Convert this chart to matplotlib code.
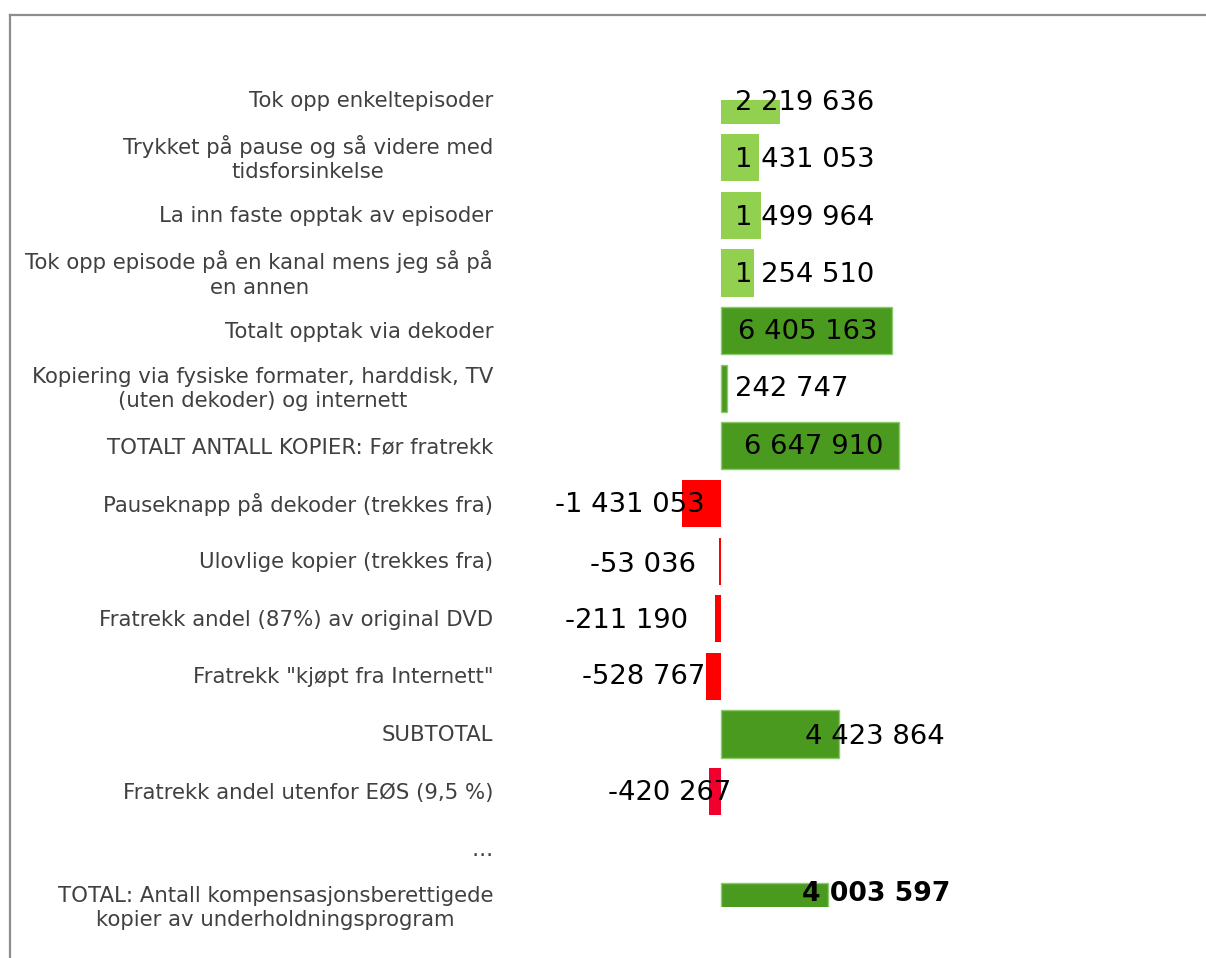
import numpy as np
import matplotlib
matplotlib.use('Agg')
import matplotlib.pyplot as plt
import matplotlib.transforms as mtransforms

# data
labels = [
    'Tok opp enkeltepisoder',
    'Trykket på pause og så videre med\ntidsforsinkelse',
    'La inn faste opptak av episoder',
    'Tok opp episode på en kanal mens jeg så på\nen annen',
    'Totalt opptak via dekoder',
    'Kopiering via fysiske formater, harddisk, TV\n(uten dekoder) og internett',
    'TOTALT ANTALL KOPIER: Før fratrekk',
    'Pauseknapp på dekoder (trekkes fra)',
    'Ulovlige kopier (trekkes fra)',
    'Fratrekk andel (87%) av original DVD',
    'Fratrekk "kjøpt fra Internett"',
    'SUBTOTAL',
    'Fratrekk andel utenfor EØS (9,5 %)',
    '…',
    'TOTAL: Antall kompensasjonsberettigede\nkopier av underholdningsprogram',
]
values = [2219636, 1431053, 1499964, 1254510, 6405163, 242747, 6647910,
          -1431053, -53036, -211190, -528767, 4423864, -420267, None, 4003597]
value_text = ['2 219 636', '1 431 053', '1 499 964', '1 254 510', '6 405 163',
              '242 747', '6 647 910', '-1 431 053', '-53 036', '-211 190',
              '-528 767', '4 423 864', '-420 267', '', '4 003 597']
kinds = ['part', 'part', 'part', 'part', 'total', 'total', 'total',
         'minus', 'minus', 'minus', 'minus', 'total', 'minus2', 'none', 'total']

# layout (pixels)
W, H = 1206, 958
zero_px = 720.5
px_per_unit = 178.5 / 6647910
text_dx = [84.5, 84.5, 84.5, 84.5, 87.5, 71.5, 93.5, -91, -78, -94, -77,
           154.5, -51, 0, 156]
# downward shift of the value text, pixels
text_dy = [3, 2, 3, 2, 1, 1, 1, 1, 4, 2, 1, 3, 1, 0, -13]

colors = {'part': '#92D050', 'total': '#4A9A1F', 'minus': '#FF0000',
          'minus2': '#F0002C', 'none': 'none'}

fig = plt.figure(figsize=(W / 100, H / 100), dpi=100)
top_px, bot_px = 100, 907
ax = fig.add_axes([0, 1 - bot_px / H, 1, (bot_px - top_px) / H])
n = len(labels)
ax.set_ylim(n - 1, 0)
ax.set_xlim(-zero_px / px_per_unit, (W - zero_px) / px_per_unit)
ax.axis('off')

rows = np.arange(n)
for i in rows:
    v = values[i]
    if v is None:
        continue
    k = kinds[i]
    ec = '#8CCB6B' if k == 'total' else 'none'
    ax.barh(i, v, height=0.82, color=colors[k], edgecolor=ec,
            linewidth=1.0 if k == 'total' else 0)

lab_tr = mtransforms.blended_transform_factory(fig.transFigure, ax.transData)
for i in rows:
    tr = mtransforms.offset_copy(lab_tr, fig=fig, x=0, y=-1, units='dots')
    ax.text(493 / W, i, labels[i], transform=tr, ha='right', va='center',
            multialignment='center', fontsize=15.3, color='#404040',
            linespacing=1.27, clip_on=False)

for i in rows:
    if not value_text[i]:
        continue
    tr = mtransforms.offset_copy(ax.transData, fig=fig, x=text_dx[i],
                                 y=-text_dy[i], units='dots')
    bold = i == n - 1
    ax.text(0, i, value_text[i], transform=tr, ha='center', va='center',
            fontsize=19.2 if bold else 19.7,
            fontweight='bold' if bold else 'normal', color='black',
            clip_on=False)

# border of the surrounding frame
fig.add_artist(plt.Line2D([10 / W, 1], [1 - 15 / H, 1 - 15 / H],
                          transform=fig.transFigure, color='#8C8C8C', lw=1.6))
fig.add_artist(plt.Line2D([10 / W, 10 / W], [0, 1 - 15 / H],
                          transform=fig.transFigure, color='#8C8C8C', lw=1.6))

fig.savefig('out.png', dpi=100)
